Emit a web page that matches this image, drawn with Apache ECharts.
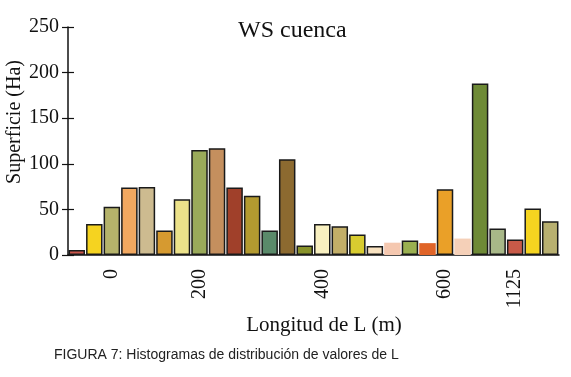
<!DOCTYPE html>
<html>
<head>
<meta charset="utf-8">
<script src="https://cdn.jsdelivr.net/npm/echarts@6/dist/echarts.min.js"></script>
<style>html,body{margin:0;padding:0;background:#fff;}#c{width:571px;height:377px;}</style>
</head>
<body>
<div id="c"></div>
<script>
var categories = ['', '', '0', '', '', '', '', '200', '', '', '', '', '', '', '400', '', '', '', '', '', '', '600', '', '', '', '1125', '', ''];
var values = [5.5, 34, 53, 74, 74.5, 27, 61, 115, 117, 74, 65, 27, 105, 10.5, 34, 31.5, 22.5, 10, 13.5, 16, 13, 72, 18, 188, 29, 17, 51, 37];
var colors = ['#c9554a', '#f5d320', '#b5b36b', '#f2a860', '#cdbb90', '#d69a30', '#ece28a', '#9aaa5a', '#c48f5e', '#a0402a', '#b39a30', '#5a8a6a', '#8c6a30', '#88922a', '#f8f0c0', '#c2ae68', '#d8cc30', '#f8e2c0', '#f5c8b0', '#9ab050', '#e06428', '#eaa028', '#f5d0b8', '#6e8a36', '#a8b888', '#c85a48', '#f5d420', '#b8b070'];
var noBorder = [18, 20, 22];
var yTicks = [0, 50, 100, 150, 200, 250];

var chart = echarts.init(document.getElementById('c'), null, {renderer: 'canvas'});
var serif = '"Liberation Serif", "DejaVu Serif", serif';
var data = values.map(function (v, i) {
  var nb = noBorder.indexOf(i) >= 0;
  return {value: v, itemStyle: {color: colors[i], borderColor: '#1a1a1a', borderWidth: nb ? 0 : 1.5}};
});
chart.setOption({
  animation: false,
  backgroundColor: '#fff',
  grid: {left: 68, right: 12, top: 27, bottom: 122},
  xAxis: {
    type: 'category',
    data: categories,
    axisLine: {lineStyle: {color: '#111', width: 1.5}},
    axisTick: {show: false},
    axisLabel: {interval: 0, rotate: 90, margin: 14, fontFamily: serif, fontSize: 20, color: '#111'}
  },
  yAxis: [{
    type: 'value', min: yTicks[0], max: yTicks[yTicks.length - 1], interval: yTicks[1] - yTicks[0],
    splitLine: {show: false},
    axisLine: {show: true, lineStyle: {color: '#111', width: 1.5}},
    axisTick: {show: true, length: 6, lineStyle: {color: '#111', width: 1.2}},
    axisLabel: {margin: 9, fontFamily: serif, fontSize: 20, color: '#111'}
  }, {
    type: 'value', position: 'left', min: yTicks[0], max: yTicks[yTicks.length - 1], interval: yTicks[1] - yTicks[0],
    splitLine: {show: false},
    axisLine: {show: false},
    axisTick: {show: true, inside: true, length: 6, lineStyle: {color: '#111', width: 1.2}},
    axisLabel: {show: false}
  }],
  series: [{
    type: 'bar',
    data: data,
    barCategoryGap: '6%',
    yAxisIndex: 0
  }],
  graphic: [
    {type: 'text', left: 293 - 55, top: 19, style: {text: 'WS cuenca', font: '24px ' + serif, fill: '#111'}},
    {type: 'text', x: 15, y: 122, rotation: Math.PI / 2, style: {text: 'Superficie (Ha)', font: '20px ' + serif, fill: '#111', align: 'center', verticalAlign: 'middle'}},
    {type: 'text', x: 324, y: 325, style: {text: 'Longitud de L (m)', font: '21px ' + serif, fill: '#111', align: 'center', verticalAlign: 'middle'}},
    {type: 'text', x: 54, y: 355, style: {text: 'FIGURA 7: Histogramas de distribución de valores de L', font: '14px "Liberation Sans", Arial, sans-serif', fill: '#222', align: 'left', verticalAlign: 'middle'}}
  ]
});
</script>
</body>
</html>
